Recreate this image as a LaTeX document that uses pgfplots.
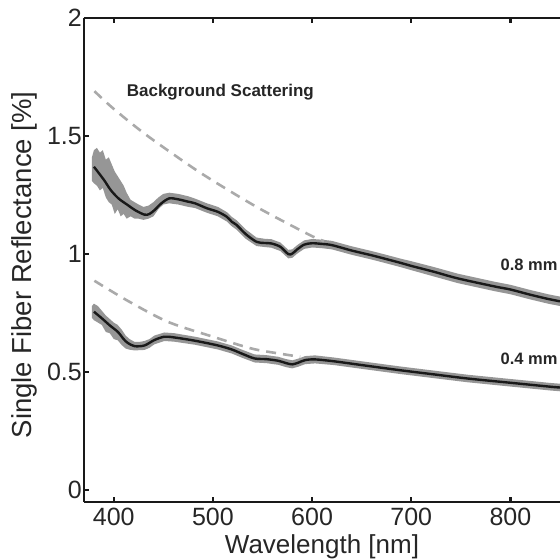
\documentclass[border=0pt]{standalone}
\usepackage{pgfplots}
\pgfplotsset{compat=1.18}
\usepgfplotslibrary{fillbetween}
\usepackage{fontspec}
\setmainfont{Liberation Sans}
\definecolor{band}{RGB}{150,150,150}
\definecolor{bgdash}{RGB}{170,170,170}
\definecolor{curve}{RGB}{25,25,25}
\begin{document}
\begin{tikzpicture}
\begin{axis}[
  width=476pt, height=484pt, scale only axis,
  xmin=370, xmax=850, ymin=-0.05, ymax=2,
  separate axis lines, axis x line*=box, axis y line*=left,
  axis line style={line width=2.5pt, black!90},
  xtick={400,500,600,700,800}, ytick={0,0.5,1,1.5,2},
  tick align=inside, major tick length=5pt,
  tick style={line width=2.2pt, black!90},
  /pgf/number format/assume math mode=true,
  ticklabel style={font=\fontsize{25}{25}\selectfont, text=black!85},
  xticklabel style={inner sep=2pt, yshift=-4pt},
  yticklabel style={inner sep=2pt},
  xlabel={Wavelength [nm]}, ylabel={Single Fiber Reflectance [\%]},
  xlabel style={font=\fontsize{26}{26}\selectfont, text=black!85, at={(axis description cs:0.5,-0.093)}, anchor=center},
  ylabel style={font=\fontsize{27.5}{27.5}\selectfont, text=black!85, at={(axis description cs:-0.126,0.49)}, anchor=center, rotate=0},
  clip mode=individual,
]
% ---- 0.8 mm band
\addplot[name path=u8, draw=none, forget plot] coordinates {
(378,1.41)(380,1.44)(383,1.45)(386,1.43)(389,1.44)(392,1.40)(395,1.41)(398,1.38)(401,1.35)(404,1.33)(407,1.31)(410,1.29)(413,1.26)(417,1.23)(421,1.22)(425,1.21)(430,1.20)(435,1.205)(440,1.22)(445,1.24)(450,1.255)(456,1.26)(465,1.255)(475,1.245)(482,1.235)(494,1.215)(505,1.20)(514,1.178)(519,1.158)(524,1.143)(533,1.105)(544,1.07)(552,1.065)(559,1.063)(568,1.049)(576,1.018)(580,1.02)(585,1.038)(592,1.058)(600,1.064)(610,1.061)(620,1.056)(640,1.033)(660,1.013)(672,1.0)(690,0.98)(700,0.97)(723,0.945)(747,0.917)(784,0.883)(800,0.87)(820,0.848)(838,0.83)(850,0.82)};
\addplot[name path=l8, draw=none, forget plot] coordinates {
(378,1.31)(380,1.30)(383,1.29)(386,1.27)(389,1.28)(392,1.24)(395,1.22)(398,1.21)(401,1.17)(404,1.19)(407,1.16)(410,1.17)(413,1.15)(417,1.16)(421,1.15)(425,1.15)(430,1.145)(435,1.15)(440,1.16)(445,1.19)(450,1.21)(456,1.215)(465,1.21)(475,1.20)(482,1.195)(494,1.175)(505,1.16)(514,1.138)(519,1.118)(524,1.103)(533,1.065)(544,1.034)(552,1.03)(559,1.027)(568,1.013)(576,0.982)(580,0.984)(585,1.002)(592,1.022)(600,1.028)(610,1.025)(620,1.02)(640,0.997)(660,0.977)(672,0.964)(690,0.944)(700,0.932)(723,0.905)(747,0.877)(784,0.843)(800,0.83)(820,0.808)(838,0.79)(850,0.78)};
\addplot[band, forget plot] fill between[of=u8 and l8];
% ---- 0.4 mm band
\addplot[name path=u4, draw=none, forget plot] coordinates {
(378,0.78)(380,0.79)(384,0.78)(388,0.76)(392,0.74)(396,0.725)(400,0.71)(404,0.70)(408,0.68)(412,0.655)(416,0.64)(421,0.628)(426,0.628)(431,0.632)(436,0.64)(441,0.655)(451,0.668)(461,0.665)(482,0.65)(505,0.63)(519,0.613)(530,0.594)(542,0.575)(554,0.572)(566,0.565)(574,0.555)(580,0.55)(586,0.557)(593,0.568)(603,0.571)(622,0.562)(650,0.546)(689,0.524)(720,0.508)(757,0.489)(800,0.471)(841,0.454)(850,0.451)};
\addplot[name path=l4, draw=none, forget plot] coordinates {
(378,0.73)(380,0.72)(384,0.71)(388,0.70)(392,0.67)(396,0.665)(400,0.64)(404,0.635)(408,0.615)(412,0.60)(416,0.595)(421,0.592)(426,0.593)(431,0.594)(436,0.603)(441,0.618)(451,0.632)(461,0.629)(482,0.616)(505,0.596)(519,0.579)(530,0.56)(542,0.541)(554,0.538)(566,0.531)(574,0.521)(580,0.516)(586,0.523)(593,0.534)(603,0.537)(622,0.53)(650,0.514)(689,0.492)(720,0.476)(757,0.457)(800,0.439)(841,0.422)(850,0.419)};
\addplot[band, forget plot] fill between[of=u4 and l4];
% ---- background scattering (dashed)
\addplot[bgdash, line width=2.6pt, dash pattern=on 10pt off 7pt, smooth] coordinates {
(380.5,1.69)(400,1.615)(433,1.504)(480,1.365)(510,1.285)(544,1.20)(575,1.13)(601.5,1.073)(612,1.055)};
\addplot[bgdash, line width=2.6pt, dash pattern=on 10pt off 7pt, smooth] coordinates {
(380.5,0.887)(415,0.80)(454.7,0.713)(500,0.65)(539,0.600)(565,0.580)(588,0.565)};
% ---- 0.8 mm fit
\addplot[curve, line width=2.4pt, smooth] coordinates {
(380,1.370)(390,1.315)(397,1.271)(405,1.235)(414,1.208)(422,1.185)(431,1.167)(436,1.170)(441,1.186)(448,1.215)(456,1.236)(465,1.232)(475,1.222)(482,1.215)(494,1.194)(505,1.179)(514,1.158)(519,1.137)(524,1.123)(533,1.085)(544,1.052)(552,1.047)(559,1.045)(568,1.031)(576,1.000)(580,1.002)(585,1.020)(592,1.040)(600,1.046)(610,1.043)(620,1.038)(640,1.015)(660,0.995)(672,0.982)(690,0.962)(700,0.950)(723,0.925)(747,0.897)(784,0.863)(800,0.850)(820,0.828)(838,0.810)(850,0.800)};
% ---- 0.4 mm fit
\addplot[curve, line width=2.4pt, smooth] coordinates {
(380,0.756)(388,0.728)(396,0.698)(404,0.671)(410,0.640)(414,0.624)(421,0.610)(431,0.613)(441,0.636)(451,0.650)(461,0.647)(482,0.633)(505,0.613)(519,0.596)(530,0.577)(542,0.558)(554,0.555)(566,0.548)(574,0.538)(580,0.533)(586,0.540)(593,0.551)(603,0.554)(622,0.546)(650,0.530)(689,0.508)(720,0.492)(757,0.473)(800,0.455)(841,0.438)(850,0.435)};
\node[anchor=base west, inner sep=0pt, font=\fontsize{17}{17}\selectfont\bfseries, text=black!85] at (axis cs:413,1.669) {Background Scattering};
\node[anchor=base west, inner sep=0pt, font=\fontsize{16.5}{16.5}\selectfont\bfseries, text=black!85] at (axis cs:790,0.929) {0.8 mm};
\node[anchor=base west, inner sep=0pt, font=\fontsize{16.5}{16.5}\selectfont\bfseries, text=black!85] at (axis cs:790,0.534) {0.4 mm};
\end{axis}
\pgfresetboundingbox
\path ([xshift=-84pt,yshift=-58pt]current axis.south west) rectangle ([yshift=18pt]current axis.north east);
\end{tikzpicture}
\end{document}
